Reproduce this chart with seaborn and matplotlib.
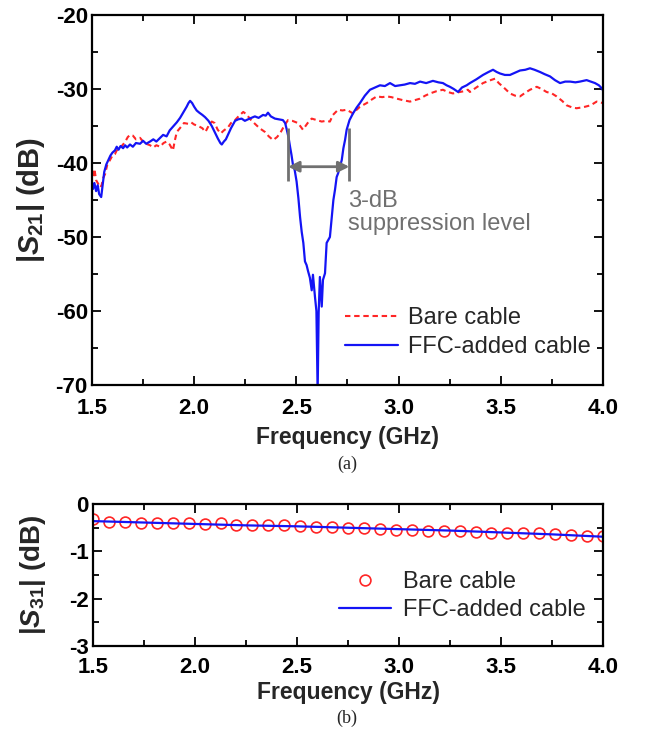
import matplotlib
matplotlib.use("Agg")
import matplotlib.pyplot as plt
from matplotlib.ticker import MultipleLocator
import pandas as pd
import seaborn as sns

# ---- (a) |S21| of the two cable configurations ----
freq_bare = [
    1.500, 1.505, 1.512, 1.520, 1.530, 1.540, 1.547, 1.555, 1.564, 1.575,
    1.588, 1.600, 1.612, 1.621, 1.635, 1.652, 1.665, 1.675, 1.686, 1.700,
    1.715, 1.735, 1.750, 1.765, 1.784, 1.800, 1.815, 1.833, 1.850, 1.865,
    1.880, 1.896, 1.905, 1.915, 1.930, 1.950, 1.970, 1.985, 2.000, 2.020,
    2.040, 2.055, 2.070, 2.086, 2.100, 2.115, 2.130, 2.145, 2.165, 2.180,
    2.200, 2.220, 2.240, 2.255, 2.275, 2.297, 2.320, 2.346, 2.365, 2.386,
    2.405, 2.420, 2.440, 2.459, 2.480, 2.508, 2.532, 2.555, 2.575, 2.600,
    2.624, 2.645, 2.664, 2.679, 2.704, 2.725, 2.746, 2.765, 2.777, 2.795,
    2.811, 2.844, 2.870, 2.893, 2.920, 2.942, 2.965, 2.991, 3.020, 3.056,
    3.080, 3.105, 3.130, 3.154, 3.185, 3.217, 3.240, 3.266, 3.300, 3.320,
    3.339, 3.349, 3.380, 3.413, 3.440, 3.472, 3.490, 3.511, 3.545, 3.570,
    3.594, 3.620, 3.643, 3.676, 3.700, 3.724, 3.750, 3.773, 3.800, 3.822,
    3.850, 3.871, 3.895, 3.912, 3.940, 3.969, 3.985, 4.000,
]
s21_bare = [
    -41.0, -42.0, -40.8, -42.3, -42.8, -43.3, -43.0, -42.0, -41.5, -40.2,
    -39.6, -39.0, -38.8, -38.3, -38.0, -37.5, -37.0, -36.5, -36.2, -36.3,
    -36.8, -36.6, -37.1, -37.4, -37.6, -37.9, -37.6, -37.8, -37.3, -37.1,
    -37.5, -38.3, -37.0, -35.8, -35.3, -34.6, -34.7, -34.5, -34.8, -35.0,
    -35.3, -35.8, -35.0, -34.4, -34.6, -35.5, -36.0, -35.6, -35.2, -34.6,
    -34.2, -33.6, -33.1, -33.4, -34.1, -34.7, -35.3, -35.8, -36.4, -36.9,
    -36.5, -36.0, -35.0, -34.2, -34.3, -34.6, -35.5, -34.6, -34.0, -34.2,
    -34.4, -34.3, -34.4, -33.5, -32.8, -32.9, -32.8, -33.1, -33.3, -32.8,
    -32.4, -31.9, -31.4, -31.0, -31.1, -31.0, -31.1, -31.3, -31.5, -31.7,
    -31.5, -31.3, -30.9, -30.6, -30.3, -30.1, -30.4, -30.6, -30.4, -30.3,
    -30.1, -30.4, -29.8, -29.2, -28.9, -28.6, -29.2, -29.7, -30.6, -30.9,
    -31.0, -30.5, -30.1, -29.7, -30.0, -30.4, -30.6, -31.0, -31.6, -32.2,
    -32.5, -32.6, -32.5, -32.4, -32.2, -31.7, -31.8, -31.9,
]

freq_ffc = [
    1.500, 1.505, 1.512, 1.520, 1.528, 1.535, 1.545, 1.552, 1.560, 1.570,
    1.580, 1.590, 1.600, 1.612, 1.621, 1.630, 1.640, 1.652, 1.662, 1.672,
    1.686, 1.700, 1.715, 1.735, 1.750, 1.765, 1.784, 1.800, 1.815, 1.833,
    1.848, 1.865, 1.880, 1.896, 1.915, 1.931, 1.948, 1.963, 1.972, 1.980,
    1.990, 2.000, 2.012, 2.025, 2.040, 2.053, 2.070, 2.086, 2.100, 2.116,
    2.128, 2.135, 2.145, 2.155, 2.165, 2.180, 2.200, 2.215, 2.232, 2.248,
    2.263, 2.280, 2.297, 2.315, 2.337, 2.350, 2.361, 2.375, 2.395, 2.415,
    2.434, 2.445, 2.453, 2.462, 2.469, 2.476, 2.483, 2.492, 2.501, 2.510,
    2.518, 2.526, 2.534, 2.542, 2.550, 2.557, 2.566, 2.575, 2.581, 2.591,
    2.598, 2.604, 2.609, 2.615, 2.624, 2.630, 2.640, 2.648, 2.656, 2.664,
    2.673, 2.681, 2.689, 2.697, 2.704, 2.713, 2.722, 2.730, 2.738, 2.746,
    2.760, 2.777, 2.795, 2.811, 2.835, 2.860, 2.885, 2.909, 2.933, 2.958,
    2.983, 3.007, 3.030, 3.056, 3.080, 3.105, 3.135, 3.168, 3.195, 3.217,
    3.235, 3.251, 3.270, 3.291, 3.310, 3.333, 3.349, 3.380, 3.413, 3.440,
    3.462, 3.480, 3.496, 3.520, 3.545, 3.570, 3.594, 3.620, 3.643, 3.665,
    3.692, 3.715, 3.741, 3.765, 3.790, 3.815, 3.839, 3.865, 3.887, 3.920,
    3.940, 3.961, 3.980, 3.994, 4.000,
]
s21_ffc = [
    -42.6, -43.5, -42.7, -43.8, -43.0, -44.2, -44.6, -43.0, -41.2, -40.2,
    -39.6, -39.0, -38.6, -38.3, -37.8, -38.2, -37.7, -38.0, -37.6, -37.9,
    -37.5, -37.8, -37.3, -37.4, -37.0, -37.4, -37.1, -36.8, -37.1, -36.6,
    -36.2, -36.4, -35.6, -35.1, -34.5, -33.9, -33.1, -32.4, -31.9, -31.6,
    -31.9, -32.4, -32.9, -33.2, -33.5, -33.8, -34.3, -35.0, -35.8, -36.7,
    -37.3, -37.5, -37.1, -36.8, -36.2, -35.3, -34.3, -34.1, -34.0, -34.3,
    -34.1, -33.9, -33.7, -33.9, -33.5, -33.6, -33.2, -33.7, -34.0, -34.1,
    -34.2, -34.6, -35.5, -36.6, -37.8, -38.9, -40.2, -41.0, -42.5, -44.8,
    -47.3, -49.3, -50.8, -53.3, -53.8, -54.6, -55.5, -57.2, -55.1, -58.1,
    -60.0, -71.0, -60.2, -55.4, -59.4, -55.8, -54.9, -50.8, -50.4, -50.0,
    -47.3, -45.0, -43.6, -41.9, -41.4, -40.5, -39.6, -38.0, -36.9, -35.5,
    -34.2, -33.3, -32.5, -31.9, -30.9, -30.1, -29.8, -29.5, -29.6, -29.2,
    -29.6, -29.5, -29.4, -29.2, -29.3, -29.0, -29.2, -28.9, -29.1, -29.2,
    -29.5, -29.7, -30.0, -30.4, -29.8, -29.5, -29.2, -28.7, -28.1, -27.7,
    -27.4, -27.7, -27.9, -28.1, -28.1, -27.8, -27.5, -27.4, -27.2, -27.4,
    -27.7, -28.0, -28.3, -28.8, -29.2, -29.0, -29.0, -29.1, -29.0, -28.8,
    -29.0, -29.2, -29.5, -29.9, -30.2,
]

# 3-dB suppression band edges (GHz) and the level of the width arrow (dB)
band_edges = [2.460, 2.759]
band_arrow_level = -40.5
band_bracket = [-35.3, -42.4]

# ---- (b) |S31| ----
freq_s31_bare = [
    1.500, 1.578, 1.656, 1.734, 1.813, 1.891, 1.969, 2.047, 2.125, 2.203,
    2.281, 2.359, 2.438, 2.516, 2.594, 2.672, 2.750, 2.828, 2.906, 2.984,
    3.063, 3.141, 3.219, 3.297, 3.375, 3.453, 3.531, 3.609, 3.688, 3.766,
    3.844, 3.922, 4.000,
]
s31_bare = [
    -0.32, -0.37, -0.38, -0.39, -0.41, -0.41, -0.41, -0.42, -0.41, -0.45,
    -0.45, -0.45, -0.45, -0.46, -0.48, -0.49, -0.51, -0.51, -0.53, -0.55,
    -0.55, -0.56, -0.57, -0.57, -0.59, -0.61, -0.62, -0.62, -0.62, -0.63,
    -0.65, -0.67, -0.68,
]
freq_s31_ffc = [1.50, 1.75, 2.00, 2.25, 2.50, 2.75, 3.00, 3.25, 3.50, 3.75, 4.00]
s31_ffc = [-0.36, -0.39, -0.42, -0.45, -0.47, -0.50, -0.53, -0.56, -0.60, -0.64, -0.69]

labels = ["Bare cable", "FFC-added cable"]
red = "#ff2626"
blue = "#1414f5"
gray = "#707070"

sns.set_style("ticks")
plt.rcParams["font.family"] = ["Liberation Sans", "DejaVu Sans"]
plt.rcParams["axes.unicode_minus"] = False
plt.rcParams["mathtext.fontset"] = "custom"
plt.rcParams["mathtext.rm"] = "Liberation Sans:bold"
plt.rcParams["mathtext.bf"] = "Liberation Sans:bold"
plt.rcParams["mathtext.it"] = "Liberation Sans:bold:italic"

fig = plt.figure(figsize=(6.46, 7.39), dpi=100)
ax1 = fig.add_axes([0.1424, 0.4790, 0.7910, 0.5007])
ax2 = fig.add_axes([0.1440, 0.1258, 0.7895, 0.1921])

df_bare = pd.DataFrame({"f": freq_bare, "s": s21_bare})
df_ffc = pd.DataFrame({"f": freq_ffc, "s": s21_ffc})
sns.lineplot(data=df_bare, x="f", y="s", ax=ax1, color=red, lw=1.5,
             linestyle=(0, (2.6, 1.8)), label=labels[0])
sns.lineplot(data=df_ffc, x="f", y="s", ax=ax1, color=blue, lw=1.6,
             label=labels[1])

# 3-dB bandwidth marker
ax1.vlines(band_edges, band_bracket[1], band_bracket[0], color=gray, lw=2)
ax1.annotate("", xy=(band_edges[0], band_arrow_level),
             xytext=(band_edges[1], band_arrow_level),
             arrowprops=dict(arrowstyle="<|-|>", color=gray, lw=2,
                             mutation_scale=16, shrinkA=0, shrinkB=0))
ax1.text(band_edges[1] - 0.008, -43.6, "3-dB\nsuppression level", color=gray,
         fontsize=17, ha="left", va="top", linespacing=1.1)

df31_bare = pd.DataFrame({"f": freq_s31_bare, "s": s31_bare})
df31_ffc = pd.DataFrame({"f": freq_s31_ffc, "s": s31_ffc})
sns.lineplot(data=df31_bare, x="f", y="s", ax=ax2, color=red, linestyle="none",
             marker="o", markersize=7.8, markerfacecolor="none",
             markeredgecolor=red, markeredgewidth=1.2, label=labels[0])
sns.lineplot(data=df31_ffc, x="f", y="s", ax=ax2, color=blue, lw=1.6,
             label=labels[1])

ax1.set_xlim(1.5, 4.0)
ax1.set_ylim(-70, -20)
ax2.set_xlim(1.5, 4.0)
ax2.set_ylim(-3, 0)

for ax in (ax1, ax2):
    ax.xaxis.set_major_locator(MultipleLocator(0.5))
    ax.xaxis.set_minor_locator(MultipleLocator(0.25))
    ax.tick_params(which="both", direction="in", top=True, right=True,
                   width=1.3, labelsize=16, colors="black")
    ax.tick_params(which="major", length=6.5)
    ax.tick_params(which="minor", length=4)
    for sp in ax.spines.values():
        sp.set_linewidth(1.6)
        sp.set_color("black")
    ax.set_xlabel("Frequency (GHz)", fontsize=16.5, fontweight="bold")

ax1.yaxis.set_major_locator(MultipleLocator(10))
ax1.yaxis.set_minor_locator(MultipleLocator(5))
ax2.yaxis.set_major_locator(MultipleLocator(1))
ax2.yaxis.set_minor_locator(MultipleLocator(0.5))
ax1.tick_params(axis="x", which="both", pad=9)
ax2.tick_params(axis="x", which="both", pad=8)
ax1.tick_params(axis="y", which="both", pad=3)
ax2.tick_params(axis="y", which="both", pad=3)

for ax in (ax1, ax2):
    plt.setp(ax.get_xticklabels(), fontweight="bold")
    plt.setp(ax.get_yticklabels(), fontweight="bold")

ax1.set_ylabel("|$S_{21}$| (dB)", fontsize=21, fontweight="bold")
ax2.set_ylabel("|$S_{31}$| (dB)", fontsize=20, fontweight="bold")
ax1.yaxis.set_label_coords(-0.088, 0.5)
ax2.yaxis.set_label_coords(-0.088, 0.5)
ax1.xaxis.set_label_coords(0.5, -0.11)
ax2.xaxis.set_label_coords(0.5, -0.245)

ax1.legend(loc="upper left", bbox_to_anchor=(0.495, 0.21), frameon=False,
           fontsize=17, handlelength=2.25, handletextpad=0.42,
           labelspacing=0.29, borderpad=0, borderaxespad=0)
ax2.legend(loc="upper left", bbox_to_anchor=(0.483, 0.528), frameon=False,
           fontsize=17, handlelength=2.2, handletextpad=0.5,
           labelspacing=0.25, borderpad=0, borderaxespad=0)

fig.text(347 / 646, 1 - 464 / 739, "(a)", ha="center", va="center",
         fontsize=13, family=["Liberation Serif", "DejaVu Serif"])
fig.text(347 / 646, 1 - 718 / 739, "(b)", ha="center", va="center",
         fontsize=13, family=["Liberation Serif", "DejaVu Serif"])

fig.savefig("out.png", dpi=100)
